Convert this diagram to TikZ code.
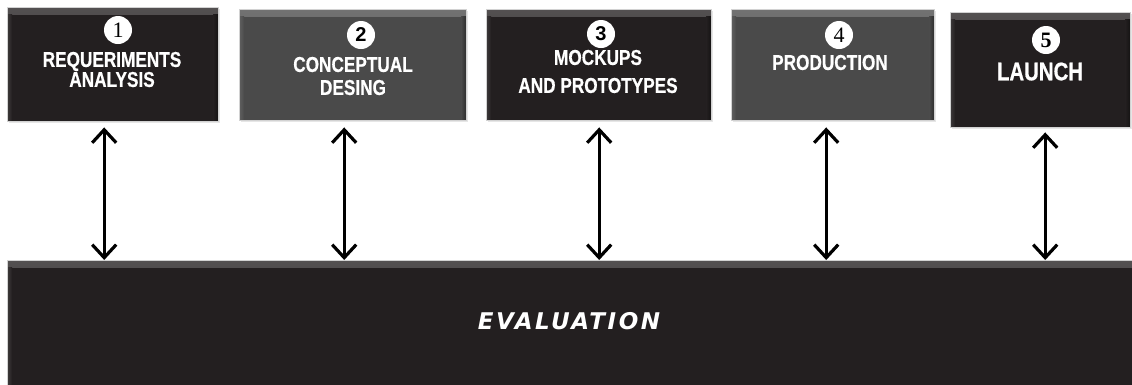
\documentclass[tikz,border=0pt]{standalone}
\usepackage{fontspec}
\setmainfont{Liberation Sans}
\newfontfamily\boxfont[FakeStretch=0.80,FakeBold=0.6]{Liberation Sans}
\newfontfamily\evalfont[LetterSpace=11]{DejaVu Sans}
\newfontfamily\numserif{Liberation Serif}
\usetikzlibrary{arrows.meta,calc,shadows}
\definecolor{boxdark}{HTML}{231F20}
\definecolor{boxgray}{HTML}{4A4A4A}
\tikzset{
  stagebox/.style={draw=gray!35, line width=0.4pt, fill=#1, anchor=north west, inner sep=0pt,
    drop shadow={opacity=0.2, shadow xshift=1.5pt, shadow yshift=-2pt},
    path picture={
      \fill[top color=white!22!#1, bottom color=#1]
        (path picture bounding box.north west) rectangle ([yshift=-7pt]path picture bounding box.north east);
      \fill[left color=white!12!#1, right color=#1]
        ([yshift=-7pt]path picture bounding box.north west) rectangle ([xshift=5pt]path picture bounding box.south west);
      \fill[right color=black!40!#1, left color=#1]
        ([yshift=-7pt]path picture bounding box.north east) rectangle ([xshift=-5pt]path picture bounding box.south east);}},
  stagetext/.style={text=white, inner sep=0pt, align=center,
    font=\boxfont\bfseries\fontsize{21.5}{#1}\selectfont},
  numcircle/.style={circle, fill=white, minimum size=28pt, inner sep=0pt, text=black},
  biarrow/.style={line width=3.2pt, {Straight Barb[length=13pt,width=24pt]}-{Straight Barb[length=13pt,width=24pt]}}
}
\begin{document}
\begin{tikzpicture}[x=1pt,y=-1pt]
\useasboundingbox (0,0) rectangle (1132,384);
% boxes
\node[stagebox=boxdark, minimum width=211pt, minimum height=114pt] (b1) at (7,7) {};
\node[stagebox=boxgray, minimum width=227pt, minimum height=111pt] (b2) at (239,9) {};
\node[stagebox=boxdark, minimum width=225pt, minimum height=111pt] (b3) at (486,9) {};
\node[stagebox=boxgray, minimum width=203pt, minimum height=111pt] (b4) at (731,9) {};
\node[stagebox=boxdark, minimum width=180pt, minimum height=115pt] (b5) at (950,12) {};
\node[stagebox=boxdark, minimum width=1140pt, minimum height=140pt] (ev) at (7,260) {};
% numbers
\node[numcircle, font=\numserif\fontsize{22}{22}\selectfont] (n1) at (118,30) {1};
\node[numcircle, font=\bfseries\fontsize{20}{20}\selectfont] (n2) at (361,35) {2};
\node[numcircle, font=\bfseries\fontsize{20}{20}\selectfont] (n3) at (601,34) {3};
\node[numcircle, font=\numserif\fontsize{22}{22}\selectfont] (n4) at (839,35) {4};
\node[numcircle, font=\numserif\bfseries\fontsize{22}{22}\selectfont] (n5) at (1046,40) {5};
% texts
\node[stagetext=20] (t1) at (112,69.5) {REQUERIMENTS\\ANALYSIS};
\node[stagetext=23] (t2) at (353,76) {CONCEPTUAL\\DESING};
\node[stagetext=28] (t3) at (598,71.5) {MOCKUPS\\AND PROTOTYPES};
\node[stagetext=20] (t4) at (830,62.5) {PRODUCTION};
\node[text=white, inner sep=0pt, font=\boxfont\bfseries\fontsize{25.5}{28}\selectfont] (t5) at (1040,71.5) {LAUNCH};
\node[text=white, inner sep=0pt, font=\evalfont\bfseries\itshape\fontsize{23}{28}\selectfont] (evt) at (569,321) {EVALUATION};
% arrows
\coordinate (a1t) at ($(b1.south)+(-8.5,6)$);
\coordinate (a2t) at ($(b2.south)+(-8.5,7)$);
\coordinate (a3t) at ($(b3.south)+(0.5,7)$);
\coordinate (a4t) at ($(b4.south)+(-6.5,7)$);
\coordinate (a5t) at ($(b5.south)+(5,5)$);
\draw[biarrow] (a1t) -- (a1t |- ev.north);
\draw[biarrow] (a2t) -- (a2t |- ev.north);
\draw[biarrow] (a3t) -- (a3t |- ev.north);
\draw[biarrow] (a4t) -- (a4t |- ev.north);
\draw[biarrow] (a5t) -- (a5t |- ev.north);
\end{tikzpicture}
\end{document}
